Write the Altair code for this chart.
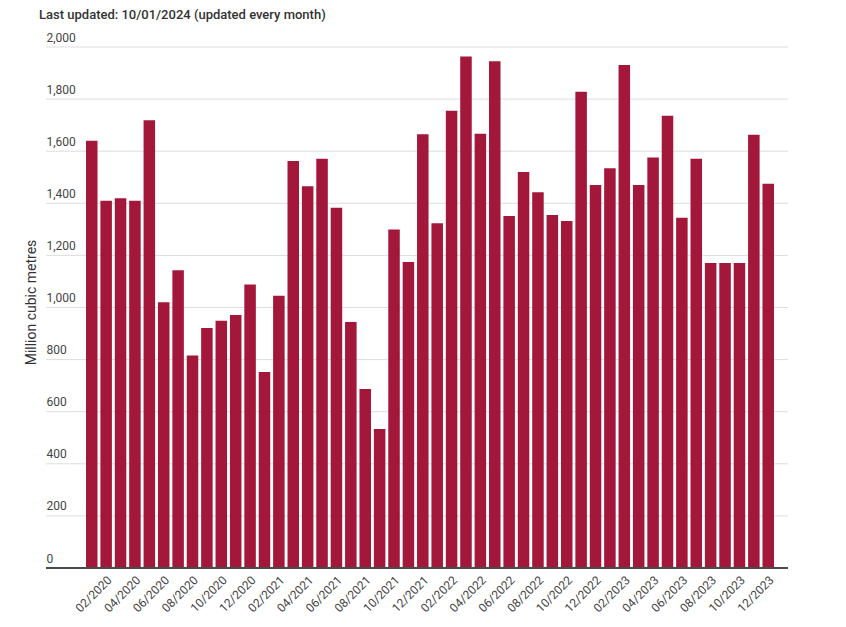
import altair as alt
import pandas as pd

months = [f"{m:02d}/{y}" for y in (2020, 2021, 2022, 2023) for m in range(1, 13)]
values = [
    1640, 1410, 1419, 1410, 1719, 1020, 1143, 816, 921, 949, 971, 1088,
    752, 1045, 1562, 1465, 1571, 1383, 944, 687, 534, 1299, 1175, 1665,
    1323, 1755, 1964, 1667, 1945, 1351, 1520, 1442, 1355, 1332, 1828, 1470,
    1535, 1931, 1470, 1576, 1736, 1345, 1571, 1171, 1171, 1171, 1663, 1475,
]
label_months = [m for m in months if int(m[:2]) % 2 == 0]
y_ticks = [0, 200, 400, 600, 800, 1000, 1200, 1400, 1600, 1800, 2000]

df = pd.DataFrame({"month": months, "value": values})
grid_df = pd.DataFrame({"v": y_ticks[1:]})

FONT = "Roboto"
W, H = 742, 521
yscale = alt.Scale(domain=[0, 2000], nice=False)

grid = alt.Chart(grid_df).mark_rule(color="#dddddd", strokeWidth=1).encode(
    x=alt.value(0),
    x2=alt.value(W),
    y=alt.Y("v:Q", scale=yscale),
)

bars = alt.Chart(df).mark_bar(color="#A3173A").encode(
    x=alt.X(
        "month:O",
        sort=None,
        title=None,
        scale=alt.Scale(paddingInner=0.2, paddingOuter=0, range=[40, 728]),
        axis=alt.Axis(
            values=label_months,
            labelAngle=-45,
            labelAlign="right",
            labelBaseline="top",
            labelPadding=6,
            labelFontSize=12,
            labelColor="#444444",
            labelFont=FONT,
            ticks=False,
            domain=False,
            grid=False,
        ),
    ),
    y=alt.Y(
        "value:Q",
        title="Million cubic metres",
        scale=yscale,
        axis=alt.Axis(
            values=y_ticks,
            format=",d",
            labelAlign="left",
            labelBaseline="bottom",
            labelPadding=0,
            labelOffset=-3,
            ticks=False,
            domain=False,
            grid=False,
            labelFontSize=12,
            labelColor="#444444",
            labelFont=FONT,
            titleFont=FONT,
            titleFontSize=14,
            titleFontWeight="normal",
            titleColor="#333333",
            titleX=-8,
            titleY=255,
            titleAngle=-90,
            titleAlign="center",
            titleBaseline="bottom",
        ),
    ),
)

baseline = alt.Chart(pd.DataFrame({"v": [0]})).mark_rule(
    color="#4a4a4a", strokeWidth=2
).encode(
    x=alt.value(0),
    x2=alt.value(W),
    y=alt.Y("v:Q", scale=yscale),
)

chart = alt.layer(grid, bars, baseline).properties(
    width=W,
    height=H,
    autosize=alt.AutoSizeParams(type="none"),
    padding={"left": 38, "top": 39, "right": 40, "bottom": 50},
    title=alt.TitleParams(
        "Last updated: 10/01/2024 (updated every month)",
        anchor="start",
        dx=15,
        offset=9,
        font=FONT,
        fontSize=13,
        fontWeight=500,
        color="#333333",
    ),
).configure_view(stroke=None)

chart.save("out.html", embed_options={"renderer": "svg", "actions": False})
